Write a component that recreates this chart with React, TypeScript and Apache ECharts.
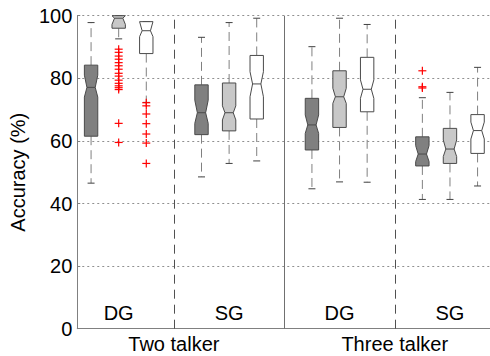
import React, { useEffect, useRef } from "react";
import * as echarts from "echarts";

// Box positions on the x axis (three boxes per group)
const positions = [1, 2, 3, 5, 6, 7, 9, 10, 11, 13, 14, 15];
const whiskerLow = [46.5, 92.6, 72.3, 48.5, 52.8, 53.6, 44.7, 46.9, 46.8, 41.3, 41.3, 45.6];
const q1 = [61.5, 96.0, 87.9, 62.0, 63.2, 67.0, 57.1, 64.3, 69.3, 52.0, 52.8, 56.0];
const notchLow = [74.0, 97.2, 93.3, 65.6, 66.7, 74.1, 62.4, 72.0, 73.6, 53.4, 55.0, 60.6];
const medians = [77.1, 99.2, 95.2, 69.0, 69.0, 78.2, 65.1, 74.1, 76.5, 55.8, 57.4, 63.3];
const notchHigh = [81.0, 100.0, 98.1, 73.0, 71.2, 82.1, 68.3, 76.8, 79.5, 58.5, 60.3, 66.0];
const q3 = [84.2, 100.0, 98.1, 77.9, 78.5, 87.3, 73.6, 82.4, 86.7, 61.3, 64.0, 68.4];
const whiskerHigh = [97.8, 100.0, 98.1, 93.1, 97.8, 99.2, 90.1, 99.2, 97.2, 73.8, 75.5, 83.5];

// Outliers (red +)
const outlierPos = [
  2, 2, 2, 2, 2, 2, 2, 2, 2, 2, 2, 2, 2, 2, 2, 2,
  3, 3, 3, 3, 3, 3, 3,
  13, 13, 13,
];
const outlierVal = [
  89.3, 88.3, 87.1, 86.1, 85.0, 84.0, 82.9, 81.6, 80.7, 79.4, 78.4, 77.6, 77.0, 76.4, 65.6, 59.5,
  72.2, 71.2, 68.6, 65.5, 62.2, 59.3, 52.8,
  82.4, 77.3, 76.9,
];

const conditionLabels = ["DG", "SG", "DG", "SG"];
const conditionPos = [2, 6, 10, 14];
const groupLabels = ["Two talker", "Three talker"];
const groupPos = [4, 12];
const yTicks = [0, 20, 40, 60, 80, 100];

const boxFills = ["#808080", "#c8c8c8", "#ffffff"];

export default function App() {
  const ref = useRef<HTMLDivElement>(null);
  useEffect(() => {
    if (!ref.current) return;
    const chart = echarts.init(ref.current, null, { renderer: "svg" });
    const boxData = positions.map((p, i) => [
      p,
      whiskerLow[i],
      q1[i],
      notchLow[i],
      medians[i],
      notchHigh[i],
      q3[i],
      whiskerHigh[i],
      i % 3,
    ]);
    const outData = outlierPos.map((p, i) => [p, outlierVal[i]]);
    const font = "'Liberation Sans', Arial, sans-serif";

    chart.setOption({
      animation: false,
      grid: { left: 76, right: 0, top: 15.7, bottom: 27.3, containLabel: false },
      xAxis: [
        {
          type: "value",
          min: 0.5,
          max: 15.45,
          position: "bottom",
          axisLine: { show: true, lineStyle: { color: "#808080", width: 1 } },
          axisTick: { show: false },
          splitLine: { show: false },
          axisLabel: {
            inside: true,
            margin: 6,
            customValues: conditionPos,
            formatter: (v: number) => {
              const k = conditionPos.indexOf(Math.round(v));
              return k >= 0 ? conditionLabels[k] : "";
            },
            color: "#000",
            fontSize: 20,
            fontFamily: font,
          },
        },
        {
          type: "value",
          min: 0.5,
          max: 15.45,
          position: "bottom",
          axisLine: { show: false },
          axisTick: { show: false },
          splitLine: { show: false },
          axisLabel: {
            margin: 5,
            customValues: groupPos,
            formatter: (v: number) => {
              const k = groupPos.indexOf(Math.round(v));
              return k >= 0 ? groupLabels[k] : "";
            },
            color: "#000",
            fontSize: 20,
            fontFamily: font,
          },
        },
      ],
      yAxis: {
        type: "value",
        min: yTicks[0],
        max: yTicks[yTicks.length - 1],
        interval: 20,
        name: "Accuracy (%)",
        nameLocation: "middle",
        nameGap: 45,
        nameTextStyle: { color: "#000", fontSize: 20, fontFamily: font },
        axisLine: { show: true, lineStyle: { color: "#808080", width: 1 } },
        axisTick: { show: true, inside: true, length: 3, lineStyle: { color: "#808080" } },
        axisLabel: { color: "#000", fontSize: 20, fontFamily: font, margin: 5 },
        splitLine: { show: true, lineStyle: { color: "#909090", type: [2, 3], width: 1 } },
      },
      series: [
        {
          type: "line",
          data: [],
          silent: true,
          markLine: {
            silent: true,
            symbol: ["none", "none"],
            label: { show: false },
            data: [
              { xAxis: 4, lineStyle: { color: "#505050", type: [9, 6], width: 1 } },
              { xAxis: 8, lineStyle: { color: "#707070", type: "solid", width: 1 } },
              { xAxis: 12, lineStyle: { color: "#505050", type: [9, 6], width: 1 } },
            ],
          },
        },
        {
          type: "custom",
          data: boxData,
          renderItem: (params: any, api: any) => {
            const p = api.value(0);
            const lo = api.value(1);
            const bq1 = api.value(2);
            const nl = Math.max(api.value(3), bq1);
            const med = api.value(4);
            const bq3 = api.value(6);
            const nh = Math.min(api.value(5), bq3);
            const hi = api.value(7);
            const col = api.value(8);
            const x = api.coord([p, 0])[0];
            const yy = (v: number) => api.coord([p, v])[1];
            const hw = api.size([0.485, 0])[0] / 2;
            const nw = hw * 0.62;
            const capW = 3.5;
            const children: any[] = [];
            const whiskerStyle = { stroke: "#808080", lineWidth: 1, lineDash: [9, 5] };
            if (hi > bq3) {
              children.push({
                type: "line",
                shape: { x1: x, y1: yy(bq3), x2: x, y2: yy(hi) },
                style: whiskerStyle,
              });
            }
            if (lo < bq1) {
              children.push({
                type: "line",
                shape: { x1: x, y1: yy(bq1), x2: x, y2: yy(lo) },
                style: whiskerStyle,
              });
            }
            children.push({
              type: "line",
              shape: { x1: x - capW, y1: yy(hi), x2: x + capW, y2: yy(hi) },
              style: { stroke: "#404040", lineWidth: 1 },
            });
            children.push({
              type: "line",
              shape: { x1: x - capW, y1: yy(lo), x2: x + capW, y2: yy(lo) },
              style: { stroke: "#404040", lineWidth: 1 },
            });
            const pts = [
              [x - hw, yy(bq1)],
              [x - hw, yy(nl)],
              [x - nw, yy(med)],
              [x - hw, yy(nh)],
              [x - hw, yy(bq3)],
              [x + hw, yy(bq3)],
              [x + hw, yy(nh)],
              [x + nw, yy(med)],
              [x + hw, yy(nl)],
              [x + hw, yy(bq1)],
            ];
            children.push({
              type: "polygon",
              shape: { points: pts },
              style: { fill: boxFills[col], stroke: "#4a4a4a", lineWidth: 1 },
            });
            children.push({
              type: "line",
              shape: { x1: x - nw, y1: yy(med), x2: x + nw, y2: yy(med) },
              style: { stroke: "#4a4a4a", lineWidth: 1 },
            });
            return { type: "group", children };
          },
        },
        {
          type: "custom",
          data: outData,
          renderItem: (params: any, api: any) => {
            const c = api.coord([api.value(0), api.value(1)]);
            const s = 4;
            const st = { stroke: "#ff0000", lineWidth: 1.2 };
            return {
              type: "group",
              children: [
                { type: "line", shape: { x1: c[0] - s, y1: c[1], x2: c[0] + s, y2: c[1] }, style: st },
                { type: "line", shape: { x1: c[0], y1: c[1] - s, x2: c[0], y2: c[1] + s }, style: st },
              ],
            };
          },
        },
      ],
    });
    return () => chart.dispose();
  }, []);
  return (
    <div
      ref={ref}
      style={{ position: "absolute", left: 0, top: 0, width: 490, height: 356, background: "#fff" }}
    />
  );
}
